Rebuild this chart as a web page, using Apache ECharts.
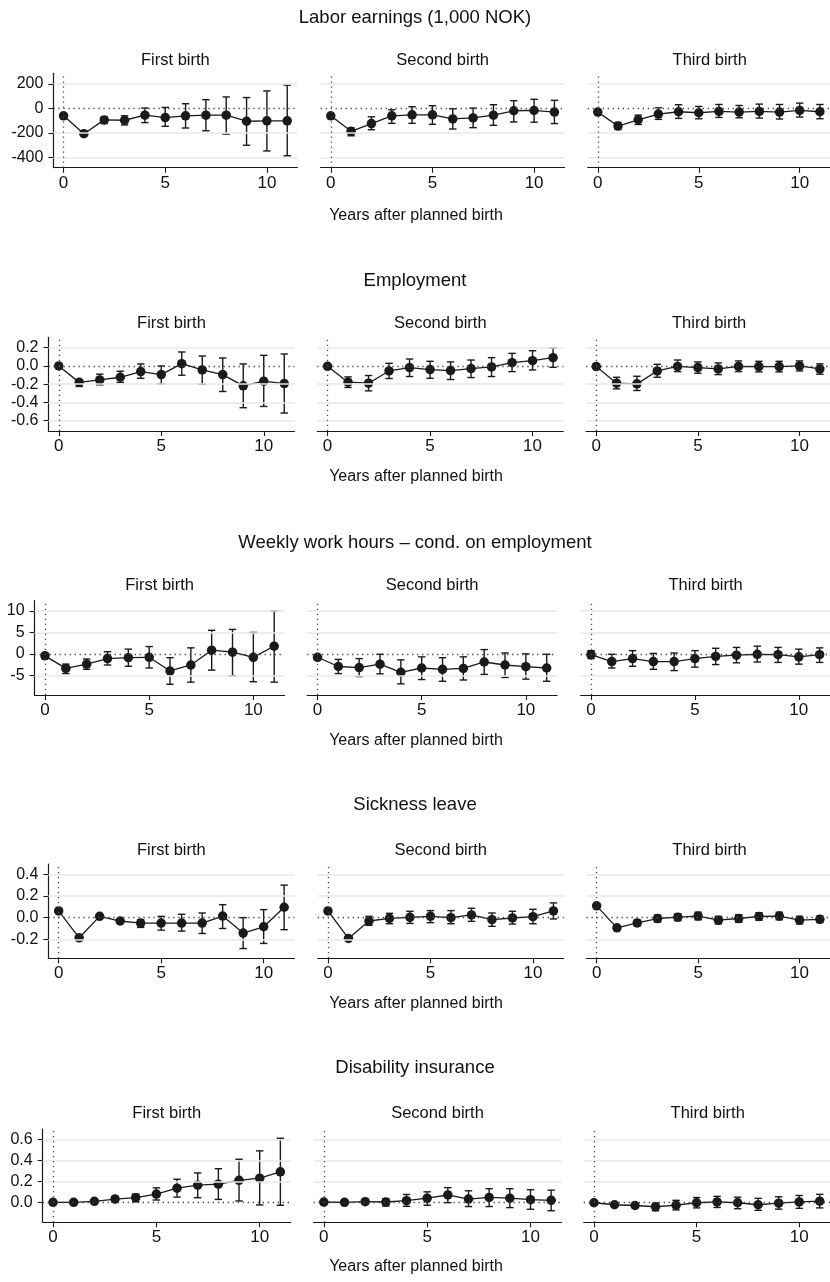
<!DOCTYPE html>
<html><head><meta charset="utf-8">
<script src="https://cdn.jsdelivr.net/npm/echarts@6/dist/echarts.min.js"></script>
<style>html,body{margin:0;padding:0;background:#fff}#c{width:830px;height:1282px}</style>
</head><body><div id="c"></div>
<script>
// ---------------- DATA ----------------
const years = [0,1,2,3,4,5,6,7,8,9,10,11];
const xTicks = [0,5,10];
const panelNames = ['First birth','Second birth','Third birth'];
const rowTitles = ['Labor earnings (1,000 NOK)','Employment','Weekly work hours \u2013 cond. on employment','Sickness leave','Disability insurance'];
const xAxisTitle = 'Years after planned birth';

const earnTicks = [-400,-200,0,200];
const empTicks  = [-0.6,-0.4,-0.2,0.0,0.2];
const hrsTicks  = [-5,0,5,10];
const sickTicks = [-0.2,0.0,0.2,0.4];
const disTicks  = [0.0,0.2,0.4,0.6];

// Labor earnings
const earn1Est = [-60,-205,-93,-96,-55,-74,-60,-55,-55,-104,-101,-101];
const earn1Lo  = [-68,-222,-123,-134,-115,-145,-159,-181,-208,-299,-345,-384];
const earn1Hi  = [-52,-188,-68,-60,3,8,38,71,93,88,142,189];
const earn2Est = [-60,-186,-123,-60,-52,-52,-85,-77,-55,-19,-16,-30];
const earn2Lo  = [-70,-222,-173,-121,-121,-129,-167,-156,-137,-110,-112,-123];
const earn2Hi  = [-50,-159,-68,-11,14,22,-3,3,30,63,74,66];
const earn3Est = [-30,-143,-92,-46,-27,-35,-24,-30,-24,-30,-16,-27];
const earn3Lo  = [-40,-170,-130,-89,-81,-84,-73,-76,-78,-86,-70,-84];
const earn3Hi  = [-20,-114,-54,5,30,16,32,24,35,32,43,32];
// Employment
const emp1Est = [0,-0.18,-0.153,-0.124,-0.062,-0.095,0.025,-0.044,-0.095,-0.218,-0.167,-0.193];
const emp1Lo  = [-0.01,-0.225,-0.207,-0.18,-0.135,-0.196,-0.102,-0.2,-0.28,-0.458,-0.444,-0.516];
const emp1Hi  = [0.01,-0.153,-0.09,-0.058,0.022,0.0,0.153,0.109,0.087,0.022,0.116,0.131];
const emp2Est = [-0.004,-0.178,-0.189,-0.055,-0.018,-0.04,-0.051,-0.029,-0.011,0.036,0.058,0.091];
const emp2Lo  = [-0.014,-0.236,-0.273,-0.138,-0.116,-0.135,-0.149,-0.127,-0.116,-0.062,-0.044,-0.015];
const emp2Hi  = [0.006,-0.12,-0.105,0.029,0.076,0.051,0.044,0.065,0.091,0.138,0.167,0.196];
const emp3Est = [-0.007,-0.189,-0.196,-0.055,-0.005,-0.018,-0.033,-0.005,-0.007,-0.007,0.0,-0.033];
const emp3Lo  = [-0.017,-0.251,-0.269,-0.124,-0.062,-0.08,-0.095,-0.062,-0.065,-0.065,-0.055,-0.09];
const emp3Hi  = [0.003,-0.124,-0.113,0.018,0.065,0.044,0.033,0.055,0.051,0.051,0.055,0.023];
// Weekly work hours
const hrs1Est = [-0.47,-3.4,-2.4,-1.1,-0.9,-0.8,-4.0,-2.6,0.85,0.4,-0.8,1.8];
const hrs1Lo  = [-1.0,-4.6,-3.6,-2.6,-2.9,-3.3,-7.1,-6.6,-3.8,-5.1,-6.5,-6.6];
const hrs1Hi  = [0.1,-2.4,-1.2,0.5,1.1,1.7,-0.9,1.4,5.5,5.7,5.0,10.0];
const hrs2Est = [-0.8,-2.95,-3.2,-2.4,-4.3,-3.3,-3.6,-3.4,-1.9,-2.6,-3.0,-3.3];
const hrs2Lo  = [-1.3,-4.6,-5.3,-4.65,-7.0,-6.0,-6.4,-6.1,-4.8,-5.5,-5.9,-6.4];
const hrs2Hi  = [-0.3,-1.3,-1.1,-0.1,-1.4,-0.7,-0.9,-0.7,1.0,0.2,0.0,-0.1];
const hrs3Est = [-0.2,-1.8,-1.1,-1.8,-1.8,-1.1,-0.6,-0.3,-0.1,-0.2,-0.7,-0.2];
const hrs3Lo  = [-1.1,-3.3,-2.9,-3.6,-3.9,-3.1,-2.5,-2.1,-1.9,-2.0,-2.4,-2.0];
const hrs3Hi  = [0.75,-0.1,0.75,0.1,0.2,0.75,1.3,1.5,1.8,1.5,1.1,1.4];
// Sickness leave
const sick1Est = [0.062,-0.186,0.012,-0.031,-0.05,-0.05,-0.05,-0.05,0.015,-0.142,-0.084,0.096];
const sick1Lo  = [0.05,-0.2,0.0,-0.05,-0.09,-0.115,-0.124,-0.146,-0.1,-0.285,-0.238,-0.111];
const sick1Hi  = [0.074,-0.172,0.024,-0.012,-0.019,0.012,0.031,0.043,0.12,0.0,0.074,0.3];
const sick2Est = [0.062,-0.192,-0.031,-0.006,0.003,0.012,0.0,0.025,-0.019,-0.003,0.009,0.062];
const sick2Lo  = [0.05,-0.205,-0.071,-0.056,-0.053,-0.046,-0.056,-0.034,-0.08,-0.059,-0.056,-0.012];
const sick2Hi  = [0.074,-0.179,0.012,0.04,0.059,0.065,0.065,0.087,0.043,0.059,0.077,0.136];
const sick3Est = [0.109,-0.094,-0.049,-0.008,0.004,0.015,-0.023,-0.008,0.011,0.015,-0.023,-0.015];
const sick3Lo  = [0.097,-0.11,-0.075,-0.04,-0.028,-0.02,-0.058,-0.043,-0.024,-0.02,-0.058,-0.045];
const sick3Hi  = [0.121,-0.078,-0.023,0.024,0.036,0.05,0.012,0.027,0.046,0.05,0.012,0.015];
// Disability insurance
const dis1Est = [0,0,0.01,0.031,0.044,0.079,0.135,0.163,0.173,0.21,0.23,0.29];
const dis1Lo  = [-0.005,-0.005,0.0,0.006,0.006,0.022,0.05,0.044,0.028,0.013,-0.025,-0.028];
const dis1Hi  = [0.005,0.005,0.02,0.057,0.079,0.138,0.22,0.28,0.32,0.41,0.49,0.61];
const dis2Est = [0.003,0,0.006,0.003,0.016,0.04,0.07,0.031,0.047,0.04,0.025,0.019];
const dis2Lo  = [-0.002,-0.005,-0.004,-0.035,-0.038,-0.028,-0.003,-0.04,-0.04,-0.05,-0.066,-0.08];
const dis2Hi  = [0.008,0.005,0.016,0.035,0.075,0.1,0.14,0.11,0.13,0.13,0.12,0.116];
const dis3Est = [-0.004,-0.023,-0.03,-0.042,-0.027,-0.004,0.004,-0.004,-0.023,-0.008,0.004,0.011];
const dis3Lo  = [-0.01,-0.03,-0.04,-0.08,-0.072,-0.053,-0.049,-0.061,-0.076,-0.065,-0.057,-0.053];
const dis3Hi  = [0.002,-0.016,-0.02,-0.008,0.019,0.046,0.057,0.049,0.038,0.053,0.065,0.076];

// ---------------- LAYOUT / STYLE ----------------
const FONT = '"Liberation Sans", Arial, Helvetica, sans-serif';
const INK = '#1a1a1a';
const fmt0 = v => String(Math.round(v));
const fmt1 = v => (Math.abs(v) < 1e-9 ? '0.0' : v.toFixed(1));

const rows = [
  {ticks: earnTicks, fmt: fmt0, ymin:-481, ymax:285, top:73.3, h:94.4, lefts:[53.4,320.6,587.7], w:244,
   titleY:18, subY:60, nameY:216,
   panels:[[earn1Est,earn1Lo,earn1Hi],[earn2Est,earn2Lo,earn2Hi],[earn3Est,earn3Lo,earn3Hi]]},
  {ticks: empTicks, fmt: fmt1, ymin:-0.713, ymax:0.314, top:337.3, h:93.7, lefts:[48.5,317.3,586.1], w:246,
   titleY:281, subY:323, nameY:477,
   panels:[[emp1Est,emp1Lo,emp1Hi],[emp2Est,emp2Lo,emp2Hi],[emp3Est,emp3Lo,emp3Hi]]},
  {ticks: hrsTicks, fmt: fmt0, ymin:-9.6, ymax:12.4, top:600.7, h:94.3, lefts:[34.6,307.1,580.6], w:250,
   titleY:543, subY:585, nameY:741,
   panels:[[hrs1Est,hrs1Lo,hrs1Hi],[hrs2Est,hrs2Lo,hrs2Hi],[hrs3Est,hrs3Lo,hrs3Hi]]},
  {ticks: sickTicks, fmt: fmt1, ymin:-0.375, ymax:0.495, top:864, h:94.3, lefts:[48.4,317.7,586.5], w:246,
   titleY:805, subY:850, nameY:1004,
   panels:[[sick1Est,sick1Lo,sick1Hi],[sick2Est,sick2Lo,sick2Hi],[sick3Est,sick3Lo,sick3Hi]]},
  {ticks: disTicks, fmt: fmt1, ymin:-0.19, ymax:0.698, top:1129, h:93.3, lefts:[42.7,313.5,583.7], w:248,
   titleY:1068, subY:1113, nameY:1267,
   panels:[[dis1Est,dis1Lo,dis1Hi],[dis2Est,dis2Lo,dis2Hi],[dis3Est,dis3Lo,dis3Hi]]}
];

const grid = [], xAxis = [], yAxis = [], series = [], graphics = [];

function textEl(txt, x, y, size) {
  return {type:'text', x:x, y:y, silent:true,
    style:{text:txt, font: size + 'px ' + FONT, fill:'#111',
      textAlign:'center', textVerticalAlign:'middle', align:'center', verticalAlign:'middle'}};
}

rows.forEach((r, ri) => {
  graphics.push(textEl(rowTitles[ri], 415, r.titleY, 18.5));
  graphics.push(textEl(xAxisTitle, 416, r.nameY, 16));
  r.panels.forEach((p, pi) => {
    const gi = grid.length;
    const isLeft = pi === 0;
    grid.push({left: r.lefts[pi], top: r.top, width: r.w, height: r.h, containLabel:false});
    graphics.push(textEl(panelNames[pi], r.lefts[pi] + r.w/2, r.subY, 16.5));
    xAxis.push({gridIndex: gi, type:'value', min:-0.5, max:11.5,
      axisLine:{show:true, onZero:false, lineStyle:{color:INK, width:1.2}},
      axisTick:{show:true, customValues:xTicks, length:5, lineStyle:{color:INK, width:1.1}},
      axisLabel:{show:true, customValues:xTicks, margin:7, fontSize:17, fontFamily:FONT, color:'#111'},
      splitLine:{show:false}});
    yAxis.push({gridIndex: gi, type:'value', min:r.ymin, max:r.ymax,
      axisLine:{show:isLeft, onZero:false, lineStyle:{color:INK, width:1.2}},
      axisTick:{show:isLeft, customValues:r.ticks, length:5, lineStyle:{color:INK, width:1.1}},
      axisLabel:{show:isLeft, customValues:r.ticks, margin:10, fontSize:16, fontFamily:FONT, color:'#111', formatter:r.fmt},
      splitLine:{show:false}});
    const [est, lo, hi] = p;
    const ptData = years.map((yr, i) => [yr, est[i]]);
    // reference lines (grid lines, zero line, x=0 line)
    const ml = r.ticks.filter(t => Math.abs(t) > 1e-9).map(t => ({yAxis:t, lineStyle:{color:'#e9e9e9', width:1.5, type:'solid'}}));
    ml.push({yAxis:0, lineStyle:{color:'#444', width:1.3, type:[1.3,3.7]}});
    ml.push({xAxis:0, lineStyle:{color:'#444', width:1.3, type:[1.3,3.7]}});
    series.push({type:'line', xAxisIndex:gi, yAxisIndex:gi, data:ptData, symbol:'none', silent:true, z:1,
      lineStyle:{opacity:0}, animation:false,
      markLine:{symbol:['none','none'], silent:true, animation:false, label:{show:false}, emphasis:{disabled:true}, data:ml}});
    // confidence intervals (range caps)
    series.push({type:'custom', xAxisIndex:gi, yAxisIndex:gi, z:2, silent:true, animation:false,
      data: years.map((yr, i) => [yr, lo[i], hi[i]]),
      renderItem: function (params, api) {
        const a = api.coord([api.value(0), api.value(1)]);
        const b = api.coord([api.value(0), api.value(2)]);
        const cw = 3.7;
        const st = {stroke: INK, lineWidth: 1.4};
        return {type:'group', children:[
          {type:'line', shape:{x1:a[0], y1:a[1], x2:b[0], y2:b[1]}, style:st},
          {type:'line', shape:{x1:a[0]-cw, y1:a[1], x2:a[0]+cw, y2:a[1]}, style:st},
          {type:'line', shape:{x1:b[0]-cw, y1:b[1], x2:b[0]+cw, y2:b[1]}, style:st}
        ]};
      }});
    // point estimates
    series.push({type:'line', xAxisIndex:gi, yAxisIndex:gi, data:ptData, z:3, silent:true, animation:false,
      symbol:'circle', symbolSize:9.5, showSymbol:true,
      itemStyle:{color:INK}, lineStyle:{color:INK, width:1.3}});
  });
});

const chart = echarts.init(document.getElementById('c'), null, {renderer:'canvas'});
chart.setOption({
  backgroundColor:'#ffffff',
  animation:false,
  grid, xAxis, yAxis, series,
  graphic:{elements:graphics}
});
</script>
</body></html>
